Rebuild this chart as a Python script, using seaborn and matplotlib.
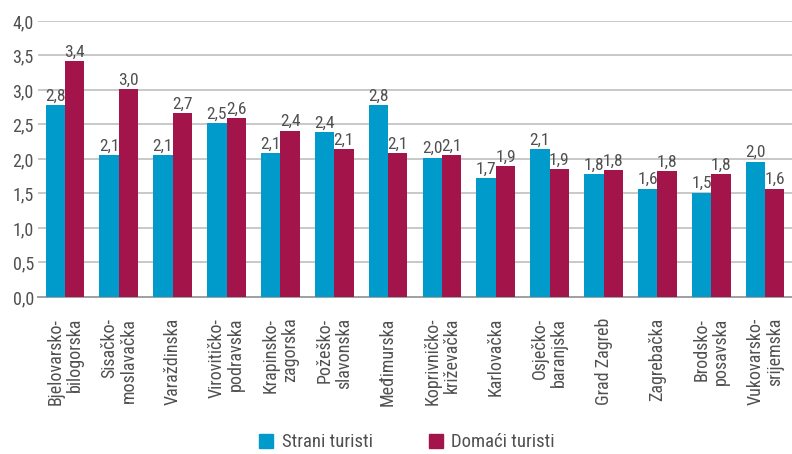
import numpy as np
import pandas as pd
import matplotlib
matplotlib.use("Agg")
import matplotlib.pyplot as plt
import seaborn as sns

# DATA
zupanije = ["Bjelovarsko-\nbilogorska", "Sisačko-\nmoslavačka", "Varaždinska",
            "Virovitičko-\npodravska", "Krapinsko-\nzagorska", "Požeško-\nslavonska",
            "Međimurska", "Koprivničko-\nkriževačka", "Karlovačka", "Osječko-\nbaranjska",
            "Grad Zagreb", "Zagrebačka", "Brodsko-\nposavska", "Vukovarsko-\nsrijemska"]
strani = [2.78, 2.06, 2.06, 2.52, 2.08, 2.39, 2.78, 2.02, 1.72, 2.14, 1.78, 1.57, 1.51, 1.96]
domaci = [3.42, 3.01, 2.66, 2.59, 2.41, 2.14, 2.08, 2.06, 1.90, 1.85, 1.84, 1.82, 1.78, 1.57]
serije = ["Strani turisti", "Domaći turisti"]
boje = ["#009bcb", "#a3154a"]

df = pd.DataFrame({
    "zupanija": zupanije * 2,
    "vrijednost": strani + domaci,
    "turisti": [serije[0]] * len(zupanije) + [serije[1]] * len(zupanije),
})

sns.set_style("white")
plt.rcParams["font.family"] = ["Roboto Condensed", "Roboto", "DejaVu Sans"]
siva = "#505050"

fig = plt.figure(figsize=(7.92, 4.54), dpi=100)
ax = fig.add_axes([0.048, 0.346, 0.952, 0.608])

sns.barplot(data=df, x="zupanija", y="vrijednost", hue="turisti",
            palette=boje, width=0.72, gap=0, saturation=1, linewidth=0,
            ax=ax, zorder=3)

for cont in ax.containers:
    ax.bar_label(cont, labels=[f"{v:.1f}".replace(".", ",") for v in cont.datavalues],
                 padding=1, fontsize=12.5, color=siva)

ax.set_ylim(0, 4.0)
ax.set_yticks(np.arange(0, 4.01, 0.5))
ax.set_yticklabels([f"{v:.1f}".replace(".", ",") for v in np.arange(0, 4.01, 0.5)],
                   fontsize=13, color=siva)
ax.set_xlim(-0.5, 13.47)
ax.yaxis.grid(True, color="#c8c8c8", lw=1.4, zorder=0)
ax.tick_params(axis="y", length=0, pad=3)

# category ticks at boundaries
ax.set_xticks(np.arange(-0.5, 14, 1))
ax.set_xticklabels([])
ax.set_xticks(np.arange(14), minor=True)
ax.set_xticklabels(zupanije, minor=True, rotation=90, fontsize=13, color=siva,
                   va="top", ha="center", ma="right", linespacing=1.1)
ax.tick_params(axis="x", which="major", length=5, width=1.4, color="#a0a0a0")
ax.tick_params(axis="x", which="minor", length=0, pad=15)

for s in ["top", "right", "left"]:
    ax.spines[s].set_visible(False)
ax.spines["bottom"].set_color("#a0a0a0")
ax.spines["bottom"].set_linewidth(1.4)

ax.set_xlabel("")
ax.set_ylabel("")
ax.legend_.remove()
handles = [plt.Rectangle((0, 0), 1, 1, color=c) for c in boje]
fig.legend(handles, serije, loc="center", bbox_to_anchor=(0.514, 0.026), ncol=2,
           frameon=False, fontsize=13.5, handlelength=0.75, handleheight=0.75,
           handletextpad=0.45, columnspacing=3.0, labelcolor=siva)

plt.savefig("out.png", dpi=100)
